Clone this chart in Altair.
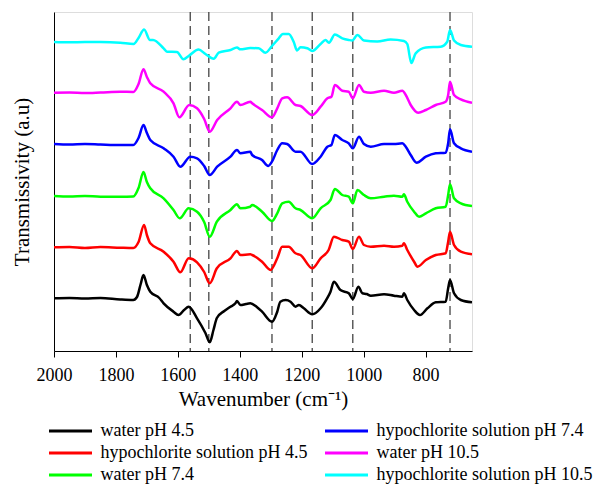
import altair as alt
import pandas as pd

# Series (wavenumber in cm^-1, transmissivity in arbitrary units, offset stacked)
wn_w45 = [2000, 1950, 1900, 1850, 1786, 1744, 1732, 1720, 1711, 1700, 1689, 1660, 1646, 1614, 1598, 1580,
          1565, 1538, 1511, 1497, 1485, 1474, 1450, 1430, 1414, 1409, 1398, 1380, 1366, 1345, 1328, 1296,
          1279, 1269, 1252, 1236, 1220, 1209, 1193, 1166, 1139, 1118, 1107, 1096, 1075, 1048, 1035, 1017,
          1004, 990, 977, 934, 902, 875, 870, 859, 837, 818, 794, 767, 735, 727, 721, 708, 686, 650]
t_w45 = [52.7, 53, 52.5, 53, 51.5, 51, 54, 67, 76, 66, 59.3, 53, 47.7, 39.3, 36, 41,
         44.3, 32.7, 18, 8.7, 21, 33, 40, 44.3, 47.7, 50, 46, 47, 47.7, 44, 39.3, 29.3,
         39.3, 49.3, 51, 49.3, 44.3, 46, 42.7, 36.7, 42.7, 52.7, 59.3, 69.3, 61, 57.7, 52, 64.3,
         57.7, 57, 55.3, 56.7, 55.3, 54.3, 57.7, 51, 41, 36, 42.7, 48.7, 49.3, 62.7, 71, 57.7, 51, 48.7]

wn_h45 = [2000, 1950, 1900, 1850, 1786, 1744, 1727, 1709, 1700, 1689, 1646, 1614, 1592, 1565, 1538, 1515,
          1497, 1474, 1430, 1409, 1398, 1366, 1360, 1328, 1301, 1279, 1263, 1242, 1220, 1204, 1166, 1139,
          1113, 1096, 1069, 1048, 1035, 1015, 999, 977, 934, 902, 875, 870, 859, 837, 826, 799, 767, 735,
          727, 721, 708, 686, 650]
t_h45 = [103.7, 104, 103, 104, 103.3, 103, 109, 126, 116, 107.7, 99.3, 89.3, 78.7, 92.7, 88.7, 79,
         67.7, 82.7, 92.7, 100, 96, 96.7, 96, 89.3, 81, 92.7, 104.3, 104.3, 97.7, 96, 82.7, 92.7,
         101, 114.3, 111, 109.3, 102, 114.3, 106, 104.3, 105.3, 104.3, 105.3, 107.7, 101, 89.3, 84.3, 91, 96, 97.7,
         109.3, 119.3, 106, 99.3, 96.7]

wn_w74 = [2000, 1950, 1900, 1850, 1786, 1744, 1727, 1711, 1700, 1689, 1646, 1614, 1594, 1565, 1538, 1515,
          1497, 1474, 1430, 1409, 1398, 1366, 1360, 1328, 1296, 1279, 1263, 1242, 1220, 1204, 1166, 1139,
          1107, 1093, 1069, 1048, 1035, 1020, 999, 977, 934, 902, 875, 870, 859, 837, 821, 799, 767, 735,
          727, 721, 708, 686, 650]
t_w74 = [155, 154.5, 155, 154.3, 154.3, 154.5, 163, 179, 169, 162.7, 152.7, 141, 132.7, 142.7, 139.3, 129,
         114.3, 129.3, 141, 146.7, 142.7, 144.3, 146, 139.3, 130, 137.7, 147.7, 149.3, 142.7, 141, 132.7, 142.7,
         151, 162, 156, 154.3, 147.7, 161, 156, 152.7, 154.3, 155.3, 154.3, 156.7, 149.3, 139.3, 134.3, 137.7, 142.7, 144.3,
         156, 166.7, 152.7, 147.7, 145]

wn_h74 = [2000, 1950, 1900, 1850, 1786, 1744, 1727, 1711, 1700, 1689, 1646, 1614, 1592, 1560, 1538, 1515,
          1497, 1473, 1430, 1409, 1398, 1366, 1360, 1328, 1308, 1296, 1279, 1263, 1247, 1220, 1204, 1166,
          1139, 1117, 1104, 1093, 1069, 1048, 1035, 1015, 999, 977, 934, 902, 875, 864, 848, 829, 799, 767,
          735, 727, 721, 708, 686, 650]
t_h74 = [207, 206.5, 207, 206.5, 206, 206, 213, 226, 218, 211, 202.7, 194.3, 184.3, 194.3, 192.7, 185,
         176, 184.3, 194.3, 201, 197.7, 199.3, 196, 191, 185, 189.3, 201, 207.7, 207, 199.3, 199.3, 187,
         194.3, 204.3, 206, 216, 211, 207.7, 202.7, 214.3, 207, 204.3, 207, 207, 207.7, 204.3, 196, 188.3, 194.3, 197.7,
         198.3, 207.7, 221.7, 207.7, 202.7, 199.3]

wn_w105 = [2000, 1950, 1900, 1850, 1786, 1744, 1727, 1711, 1700, 1689, 1646, 1614, 1595, 1563, 1538, 1515,
           1497, 1473, 1430, 1409, 1398, 1366, 1360, 1328, 1296, 1279, 1263, 1247, 1220, 1204, 1166, 1139,
           1117, 1104, 1093, 1069, 1048, 1035, 1015, 999, 977, 934, 902, 875, 864, 848, 824, 799, 767, 735,
           727, 721, 708, 686, 650]
t_w105 = [258.3, 258.5, 258, 258.5, 259.3, 259, 267, 281.7, 274, 267.7, 259.3, 247.7, 233.7, 246, 242.7, 232,
          219.3, 231, 242.7, 249.3, 246, 249.3, 247.7, 241, 233.7, 242.7, 252.7, 253.7, 246, 245, 236, 244.3,
          252.7, 254.3, 266, 260.3, 259.3, 252.7, 266, 259.3, 258.3, 260.3, 258.3, 260.3, 256, 246, 238.3, 241, 246, 249.3,
          256, 269.3, 256, 251.7, 248.3]

wn_h105 = [2000, 1950, 1900, 1850, 1786, 1743, 1727, 1709, 1690, 1680, 1646, 1635, 1603, 1582, 1565, 1533,
           1511, 1484, 1468, 1430, 1409, 1398, 1366, 1339, 1317, 1296, 1274, 1261, 1242, 1226, 1215, 1204,
           1182, 1166, 1139, 1123, 1112, 1093, 1069, 1048, 1037, 1020, 999, 956, 913, 870, 859, 846, 832, 799,
           751, 730, 721, 708, 686, 650]
t_h105 = [309, 308.7, 309, 309, 308.3, 307, 313, 321.5, 311, 311, 302.7, 299.3, 299, 291.7, 295, 301.5,
          297, 292.2, 298.3, 301, 303.5, 301.7, 303, 302.7, 298.3, 305, 312.7, 317, 317, 309.3, 300.5, 303.7,
          302.7, 300, 307, 311, 308.3, 316.5, 312.7, 311, 310.5, 316, 310.5, 309.5, 311.5, 310, 307, 288, 297.7, 303.5,
          304.3, 309.3, 321, 310.5, 306, 304.3]

series_names = ["water pH 4.5", "hypochlorite solution pH 4.5", "water pH 7.4",
                "hypochlorite solution pH 7.4", "water pH 10.5", "hypochlorite solution pH 10.5"]
series_colors = ["#000000", "#ff0000", "#00ff00", "#0000ff", "#ff00ff", "#00ffff"]
series_x = [wn_w45, wn_h45, wn_w74, wn_h74, wn_w105, wn_h105]
series_y = [t_w45, t_h45, t_w74, t_h74, t_w105, t_h105]

marker_lines = [1560, 1500, 1296, 1166, 1035, 721]
x_ticks = [2000, 1800, 1600, 1400, 1200, 1000, 800]

rows = []
for name, xs, ys in zip(series_names, series_x, series_y):
    for i, (xv, yv) in enumerate(zip(xs, ys)):
        rows.append({"series": name, "wn": xv, "t": yv, "i": i})
df = pd.DataFrame(rows)

FONT = "Liberation Serif"

xscale = alt.Scale(domain=[650, 2000], reverse=True, nice=False, zero=False)
yscale = alt.Scale(domain=[0, 339], nice=False, zero=False)

lines = alt.Chart(df).mark_line(strokeWidth=2.5, clip=True, interpolate="monotone").encode(
    x=alt.X("wn:Q", scale=xscale,
            axis=alt.Axis(values=x_ticks, title="Wavenumber (cm⁻¹)", format="d",
                          labelFont=FONT, labelFontSize=18, labelColor="black",
                          tickColor="black", tickSize=6, domainColor="black",
                          titleFont=FONT, titleFontSize=21, titleFontWeight="normal",
                          titleColor="black", labelPadding=9, titlePadding=4,
                          grid=False, labelFlush=False)),
    y=alt.Y("t:Q", scale=yscale,
            axis=alt.Axis(labels=False, ticks=False, title="Transmissivity (a.u)",
                          titleFont=FONT, titleFontSize=21, titleFontWeight="normal",
                          titleColor="black", domainColor="black", grid=False,
                          titlePadding=22)),
    color=alt.Color("series:N",
                    scale=alt.Scale(domain=series_names, range=series_colors),
                    legend=alt.Legend(orient="none", legendX=-6.5, legendY=411, columns=2,
                                      title=None, symbolType="stroke", symbolSize=1849,
                                      symbolStrokeWidth=3, labelFont=FONT, labelFontSize=18,
                                      labelColor="black", labelOffset=7, columnPadding=16,
                                      rowPadding=4, clipHeight=16, labelLimit=400)),
    order="i:Q",
    detail="series:N",
)

rules = alt.Chart(pd.DataFrame({"wn": marker_lines})).mark_rule(
    color="#444444", strokeDash=[9, 5], strokeWidth=1.3
).encode(x=alt.X("wn:Q", scale=xscale))

chart = alt.layer(rules, lines).properties(
    width=418, height=339,
    autosize=alt.AutoSizeParams(type="none"),
    padding={"left": 54, "top": 12, "right": 122, "bottom": 134},
).configure_view(stroke="#666666", strokeWidth=2).configure(background="white")

chart.save("out.html", embed_options={"renderer": "svg", "actions": False})
